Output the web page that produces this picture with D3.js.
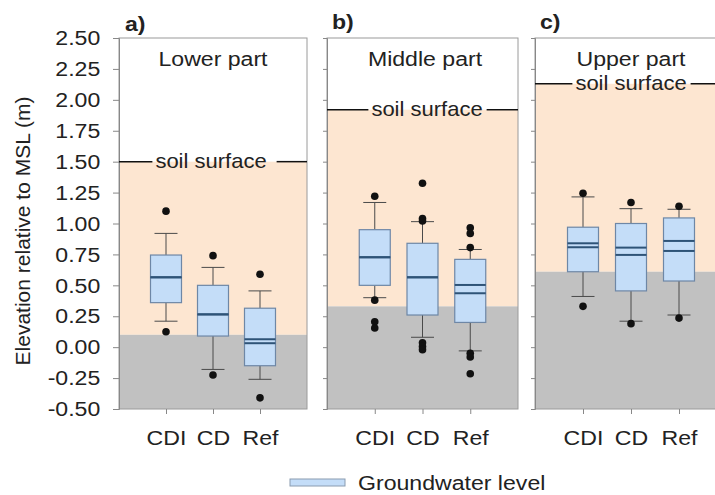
<!DOCTYPE html>
<html>
<head>
<meta charset="utf-8">
<script src="https://cdn.jsdelivr.net/npm/d3@7"></script>
<style>
  body { margin: 0; background: #fff; }
  text { font-family: "Liberation Sans", Arial, sans-serif; fill: #222; }
</style>
</head>
<body>
<svg id="chart" width="715" height="495"></svg>
<script>
// categories and panels
const categories = ["CDI", "CD", "Ref"];
const panelLabels = ["a)", "b)", "c)"];
const panelTitles = ["Lower part", "Middle part", "Upper part"];

// soil surface and groundwater level (m, relative to MSL) per panel
const soilSurface = [1.50, 1.92, 2.13];
const groundwaterTop = [0.10, 0.33, 0.61];

// box statistics, per panel -> per category
const whiskerLow = [[0.21, -0.18, -0.26], [0.40, 0.08, -0.03], [0.41, 0.21, 0.26]];
const q1 = [[0.36, 0.09, -0.15], [0.50, 0.26, 0.20], [0.61, 0.455, 0.535]];
const median = [[0.565, 0.265, 0.064], [0.727, 0.565, 0.436], [0.84, 0.805, 0.859]];
const mean = [[0.565, 0.265, 0.032], [0.727, 0.565, 0.503], [0.808, 0.746, 0.778]];
const q3 = [[0.745, 0.50, 0.315], [0.95, 0.84, 0.71], [0.97, 1.00, 1.045]];
const whiskerHigh = [[0.92, 0.645, 0.455], [1.17, 1.015, 0.79], [1.215, 1.12, 1.115]];
const outliers = [
  [[1.10, 0.125], [0.74, -0.225], [0.59, -0.41]],
  [[1.22, 0.38, 0.205, 0.155], [1.325, 1.04, 1.02, 0.035, 0.005, -0.02], [0.965, 0.92, 0.805, -0.05, -0.08, -0.215]],
  [[1.245, 0.33], [1.17, 0.19], [1.14, 0.235]]
];

const yTicks = d3.range(-0.5, 2.51, 0.25);

const svg = d3.select("#chart");

const y = d3.scaleLinear().domain([-0.5, 2.5]).range([409, 38]);
const panelX = [[119, 307], [327, 518], [535, 727]];

const peach = "#fde6d1";
const grey = "#c1c1c1";
const SX = 1.1; // the original figure's text is a bit wide

// horizontally stretched text
function wideText(sel, x, yy, str, size, anchor) {
  return sel.append("text")
    .attr("transform", `translate(${x},${yy}) scale(${SX},1)`)
    .attr("text-anchor", anchor || "start")
    .style("font-size", size + "px")
    .text(str);
}

// text centres (panel c is cut at the right edge)
const titleX = [213, 425, 631];
const soilX = [211, 427, 631];

panelX.forEach((px, p) => {
  const x = d3.scalePoint().domain(categories).range(px).padding(1);
  const g = svg.append("g");

  // background: white above soil, peach between soil and groundwater, grey below
  g.append("rect")
    .attr("x", px[0]).attr("width", px[1] - px[0])
    .attr("y", y(soilSurface[p])).attr("height", y(groundwaterTop[p]) - y(soilSurface[p]))
    .attr("fill", peach);
  g.append("rect")
    .attr("x", px[0]).attr("width", px[1] - px[0])
    .attr("y", y(groundwaterTop[p])).attr("height", y(-0.5) - y(groundwaterTop[p]))
    .attr("fill", grey);

  // panel border
  g.append("rect")
    .attr("x", px[0]).attr("y", y(2.5))
    .attr("width", px[1] - px[0]).attr("height", y(-0.5) - y(2.5))
    .attr("fill", "none").attr("stroke", "#9a9a9a").attr("stroke-width", 1);

  // y axis
  const yAxis = d3.axisLeft(y).tickValues(yTicks)
    .tickSize(p === 0 ? 6 : 4)
    .tickPadding(11)
    .tickFormat(p === 0 ? (d => d.toFixed(2)) : "");
  const ya = g.append("g").attr("transform", `translate(${px[0]},0)`).call(yAxis);
  ya.select(".domain").attr("stroke", "#888");
  ya.selectAll(".tick line").attr("stroke", "#888");
  ya.selectAll("text").style("font-size", "21px").attr("fill", "#222")
    .attr("transform", `scale(${SX},1)`);

  // x axis
  const xa = g.append("g").attr("transform", `translate(0,${y(-0.5)})`)
    .call(d3.axisBottom(x).tickSize(5).tickPadding(16));
  xa.select(".domain").remove();
  xa.selectAll(".tick line").attr("stroke", "#888");
  xa.selectAll("text").style("font-size", "21px").attr("fill", "#222")
    .attr("transform", `scale(${SX},1)`);

  // panel letter
  wideText(g, px[0] + (p === 0 ? 6 : 5), p === 0 ? 31 : 29, panelLabels[p], 21)
    .style("font-weight", "bold");

  // panel title
  wideText(g, titleX[p], 66, panelTitles[p], 21, "middle");

  // soil surface line with label
  const sy = y(soilSurface[p]);
  const st = wideText(g, soilX[p], sy + 6, "soil surface", 20, "middle");
  const w = st.node().getComputedTextLength() * SX;
  const gapR = p === 0 ? 10 : 4;
  g.append("line").attr("x1", px[0]).attr("x2", soilX[p] - w / 2 - 3)
    .attr("y1", sy).attr("y2", sy).attr("stroke", "#111").attr("stroke-width", 1.5);
  g.append("line").attr("x1", soilX[p] + w / 2 + gapR).attr("x2", px[1])
    .attr("y1", sy).attr("y2", sy).attr("stroke", "#111").attr("stroke-width", 1.5);

  // boxes
  const bw = 31, cap = 23;
  categories.forEach((c, i) => {
    const xc = x(c);
    // whiskers
    g.append("line").attr("x1", xc).attr("x2", xc)
      .attr("y1", y(whiskerHigh[p][i])).attr("y2", y(q3[p][i]))
      .attr("stroke", "#4a4a4a").attr("stroke-width", 1);
    g.append("line").attr("x1", xc).attr("x2", xc)
      .attr("y1", y(q1[p][i])).attr("y2", y(whiskerLow[p][i]))
      .attr("stroke", "#4a4a4a").attr("stroke-width", 1);
    [whiskerHigh[p][i], whiskerLow[p][i]].forEach(v => {
      g.append("line").attr("x1", xc - cap / 2).attr("x2", xc + cap / 2)
        .attr("y1", y(v)).attr("y2", y(v))
        .attr("stroke", "#4a4a4a").attr("stroke-width", 1);
    });
    // box
    g.append("rect").attr("x", xc - bw / 2).attr("width", bw)
      .attr("y", y(q3[p][i])).attr("height", y(q1[p][i]) - y(q3[p][i]))
      .attr("fill", "#c4ddf8").attr("stroke", "#6e87a6").attr("stroke-width", 1.2);
    // median and mean lines
    [median[p][i], mean[p][i]].forEach(v => {
      g.append("line").attr("x1", xc - bw / 2).attr("x2", xc + bw / 2)
        .attr("y1", y(v)).attr("y2", y(v))
        .attr("stroke", "#2e5377").attr("stroke-width", 2);
    });
    // outliers
    g.selectAll(null).data(outliers[p][i]).enter().append("circle")
      .attr("cx", xc).attr("cy", d => y(d)).attr("r", 3.8)
      .attr("fill", "#111");
  });
});

// y axis title
svg.append("text")
  .attr("transform", `translate(30,231) rotate(-90)`)
  .attr("text-anchor", "middle").style("font-size", "21px")
  .text("Elevation relative to MSL (m)");

// legend
svg.append("rect").attr("x", 290).attr("y", 479).attr("width", 55).attr("height", 7)
  .attr("fill", "#c4ddf8").attr("stroke", "#8a9bb0").attr("stroke-width", 1);
wideText(svg, 358, 490, "Groundwater level", 21);
</script>
</body>
</html>
